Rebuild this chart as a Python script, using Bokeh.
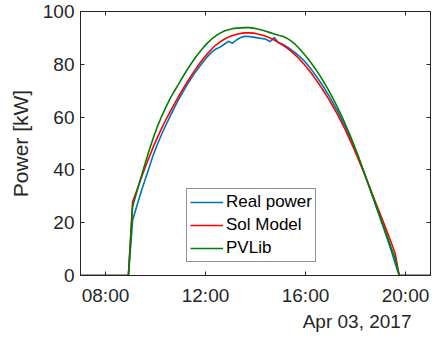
import pandas as pd
from bokeh.plotting import figure
from bokeh.models import (Range1d, FixedTicker, DatetimeTickFormatter, LinearAxis,
                          DatetimeAxis, Legend, LegendItem, Title)
from bokeh.embed import file_html
from bokeh.resources import INLINE

DAY = "2017-04-03"

def ts(hm):
    return pd.Timestamp(f"{DAY} {hm}")

# sample times: 10-minute readings between sunrise and sunset, zeros outside
grid_times = list(pd.date_range(ts("09:05"), ts("19:35"), freq="10min"))
times = [ts("07:00"), ts("08:55")] + grid_times + [ts("19:45"), ts("21:00")]

real_power = [0, 0,
    20.8, 26.2, 31.4, 36.3, 41.0, 45.8, 49.8, 53.6, 57.0, 60.3,
    63.5, 66.5, 69.3, 72.0, 74.5, 76.9, 79.0, 81.1, 83.0, 84.6,
    85.8, 86.5, 87.6, 88.7, 88.0, 89.3, 90.2, 90.6, 90.5, 90.3,
    90.0, 89.8, 89.5, 88.6, 90.1, 88.2, 87.6, 86.7, 85.6, 84.4,
    83.1, 81.6, 79.8, 77.8, 75.7, 73.4, 71.0, 68.4, 65.7, 62.8,
    59.7, 56.4, 52.9, 49.2, 45.3, 41.3, 37.1, 32.6, 28.1, 23.6,
    19.1, 14.5, 9.8, 4.6,
    0, 0]

sol_model = [0, 0,
    27.8, 32.2, 36.6, 40.8, 44.9, 48.8, 52.4, 55.8, 59.0, 62.0,
    64.9, 67.7, 70.4, 73.0, 75.5, 77.9, 80.1, 82.2, 84.1, 85.8,
    87.3, 88.5, 89.5, 90.3, 90.9, 91.4, 91.7, 91.9, 91.9, 91.8,
    91.5, 91.1, 90.6, 90.0, 89.2, 88.3, 87.3, 86.2, 85.0, 83.6,
    82.0, 80.3, 78.4, 76.4, 74.2, 71.9, 69.5, 67.0, 64.3, 61.5,
    58.5, 55.3, 51.9, 48.4, 44.7, 40.9, 37.0, 33.0, 29.0, 25.0,
    21.0, 16.9, 12.8, 8.5,
    0, 0]

pvlib = [0, 0,
    26.0, 31.6, 37.0, 42.3, 47.5, 52.3, 56.6, 60.4, 63.8, 67.0,
    69.8, 72.4, 75.1, 77.7, 80.1, 82.4, 84.5, 86.4, 88.1, 89.6,
    90.8, 91.8, 92.6, 93.1, 93.5, 93.7, 93.8, 93.9, 93.9, 93.7,
    93.4, 93.0, 92.5, 92.0, 91.5, 91.0, 90.6, 89.9, 88.9, 87.6,
    86.0, 84.2, 82.3, 80.2, 78.0, 75.6, 73.0, 70.3, 67.4, 64.3,
    61.0, 57.5, 53.9, 50.0, 45.9, 41.6, 37.2, 32.8, 28.4, 24.0,
    19.6, 15.2, 10.8, 6.4,
    0, 0]

x_tick_times = ["08:00", "12:00", "16:00", "20:00"]
y_ticks = [0, 20, 40, 60, 80, 100]
series_names = ["Real power", "Sol Model", "PVLib"]
series_colors = ["#0072BD", "#FF0000", "#008000"]
date_text = "Apr 03, 2017"

FONT = "Liberation Sans"
INK = "#262626"

x_tick_ms = [ts(t).value // 10**6 for t in x_tick_times]

p = figure(frame_width=350, frame_height=264,
           x_axis_type="datetime",
           x_range=Range1d(ts("07:00"), ts("21:00")),
           y_range=Range1d(0, 100),
           output_backend="svg", toolbar_location=None,
           min_border_left=80, min_border_top=11,
           min_border_right=6, min_border_bottom=61)

p.xgrid.visible = False
p.ygrid.visible = False
p.outline_line_color = INK
p.outline_line_width = 1
p.background_fill_color = "white"
p.border_fill_color = "white"

p.xaxis.ticker = FixedTicker(ticks=x_tick_ms)
p.xaxis.formatter = DatetimeTickFormatter(hours="%H:%M", minutes="%H:%M",
                                          days="%H:%M", hourmin="%H:%M")
p.yaxis.ticker = FixedTicker(ticks=y_ticks)

for ax in (p.xaxis[0], p.yaxis[0]):
    ax.axis_line_color = INK
    ax.major_tick_line_color = INK
    ax.major_tick_in = 4
    ax.major_tick_out = 0
    ax.minor_tick_line_color = None
    ax.major_label_text_font = FONT
    ax.major_label_text_font_size = "19px"
    ax.major_label_text_color = INK

p.xaxis.major_label_standoff = 9
p.yaxis.major_label_standoff = 6

p.yaxis.axis_label = "Power [kW]"
p.yaxis.axis_label_text_font = FONT
p.yaxis.axis_label_text_font_size = "21px"
p.yaxis.axis_label_text_font_style = "normal"
p.yaxis.axis_label_text_color = INK
p.yaxis.axis_label_standoff = 8

top_axis = DatetimeAxis(ticker=FixedTicker(ticks=x_tick_ms),
                        major_label_overrides={t: "" for t in x_tick_ms},
                        major_label_standoff=0,
                        axis_line_color=None, major_tick_line_color=INK,
                        major_tick_in=4, major_tick_out=0,
                        minor_tick_line_color=None)
p.add_layout(top_axis, "above")
right_axis = LinearAxis(ticker=FixedTicker(ticks=y_ticks),
                        major_label_overrides={t: "" for t in y_ticks},
                        major_label_standoff=0,
                        axis_line_color=None, major_tick_line_color=INK,
                        major_tick_in=4, major_tick_out=0,
                        minor_tick_line_color=None)
p.add_layout(right_axis, "right")

renderers = []
for vals, col in zip([real_power, sol_model, pvlib], series_colors):
    r = p.line(times, vals, line_color=col, line_width=1.6)
    renderers.append(r)

legend = Legend(items=[LegendItem(label=n, renderers=[r])
                       for n, r in zip(series_names, renderers)],
                location=(106, 13))
legend.label_text_font = FONT
legend.label_text_font_size = "17px"
legend.label_text_color = "black"
legend.glyph_width = 33
legend.glyph_height = 20
legend.label_height = 20
legend.label_standoff = 3
legend.spacing = 3
legend.padding = 3
legend.margin = 0
legend.border_line_color = INK
legend.border_line_width = 1
legend.background_fill_alpha = 1
p.add_layout(legend)

date_title = Title(text=date_text, align="right", offset=19,
                   text_font=FONT, text_font_size="19px",
                   text_font_style="normal", text_color=INK, standoff=0)
p.add_layout(date_title, "below")

open("out.html", "w").write(file_html(p, INLINE))
